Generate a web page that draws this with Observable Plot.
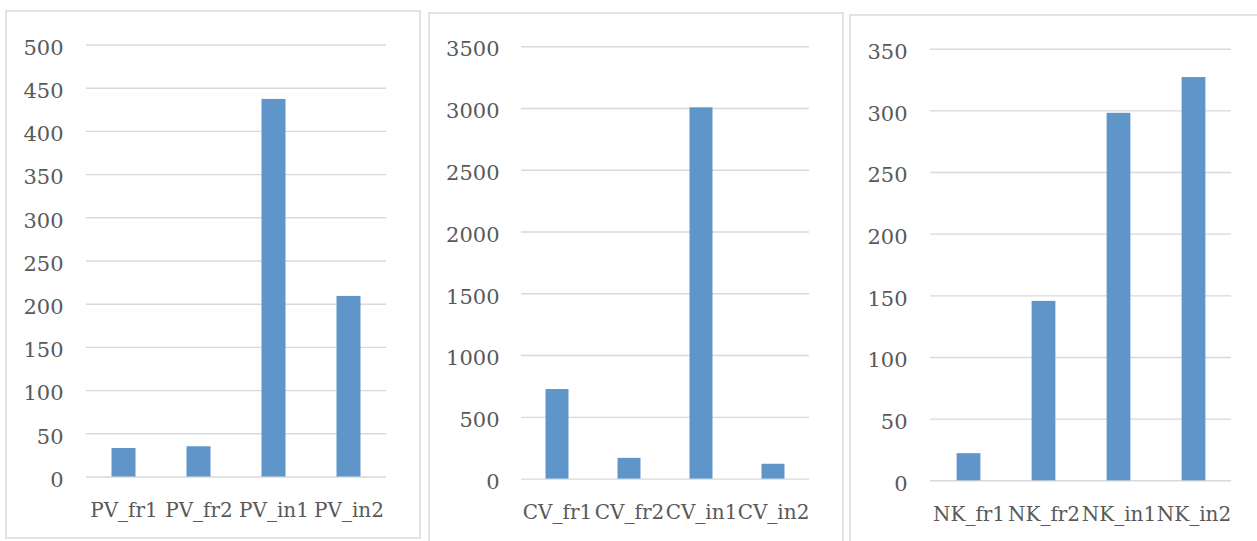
<!DOCTYPE html>
<html>
<head>
<meta charset="utf-8">
<script src="https://cdn.jsdelivr.net/npm/d3@7"></script>
<script src="https://cdn.jsdelivr.net/npm/@observablehq/plot@0.6"></script>
<style>
  html, body { margin: 0; padding: 0; background: #fff; width: 1257px; height: 541px; overflow: hidden; }
  .panel { position: absolute; box-shadow: inset 0 0 0 2px #e3e3e3; background: transparent; }
  .panel svg { position: absolute; left: 0; top: 0; overflow: visible; }
</style>
</head>
<body>
<div id="p1" class="panel" style="left:5px; top:10px; width:416px; height:529px;"></div>
<div id="p2" class="panel" style="left:428px; top:12px; width:416px; height:560px;"></div>
<div id="p3" class="panel" style="left:849px; top:14px; width:420px; height:560px;"></div>
<script>
const pvCategories = ["PV_fr1", "PV_fr2", "PV_in1", "PV_in2"];
const pvValues = [33, 35, 437, 209];
const pvTicks = [0, 50, 100, 150, 200, 250, 300, 350, 400, 450, 500];

const cvCategories = ["CV_fr1", "CV_fr2", "CV_in1", "CV_in2"];
const cvValues = [725, 168, 3005, 120];
const cvTicks = [0, 500, 1000, 1500, 2000, 2500, 3000, 3500];

const nkCategories = ["NK_fr1", "NK_fr2", "NK_in1", "NK_in2"];
const nkValues = [22, 145.5, 298, 327];
const nkTicks = [0, 50, 100, 150, 200, 250, 300, 350];

const FONT = "'DejaVu Serif', serif";
const TEXT = "#595959";
const GRID = "#d9d9d9";
const BAR = "#5f95c9";

function panel(el, cats, vals, ticks, o) {
  const data = cats.map((c, i) => ({cat: c, value: vals[i]}));
  const step = (o.width - o.ml - o.mr) / cats.length;
  const inset = (step - o.bw) / 2;
  const chart = Plot.plot({
    width: o.width,
    height: o.height,
    marginLeft: o.ml,
    marginRight: o.mr,
    marginTop: o.mt,
    marginBottom: o.mb,
    style: {fontFamily: FONT, fontSize: "20px", color: TEXT, background: "transparent"},
    x: {domain: cats, padding: 0, label: null},
    y: {domain: [0, ticks[ticks.length - 1]], label: null},
    marks: [
      Plot.gridY(ticks, {stroke: GRID, strokeOpacity: 1, strokeWidth: 1.4}),
      Plot.barY(data, {x: "cat", y: "value", fill: BAR, insetLeft: inset, insetRight: inset}),
      Plot.axisY(ticks, {tickSize: 0, tickPadding: o.tp, dy: 3, fill: TEXT, fontSize: 21, tickFormat: d => String(d), label: null}),
      Plot.axisX({tickSize: 0, tickPadding: 26, fill: TEXT, fontSize: 20, label: null})
    ]
  });
  document.getElementById(el).appendChild(chart);
}

panel("p1", pvCategories, pvValues, pvTicks, {width: 416, height: 529, ml: 81, mr: 35, mt: 34.5, mb: 62.5, bw: 24, tp: 23});
panel("p2", cvCategories, cvValues, cvTicks, {width: 416, height: 529, ml: 93, mr: 35, mt: 34.2, mb: 62.4, bw: 23, tp: 22});
panel("p3", nkCategories, nkValues, nkTicks, {width: 408, height: 527, ml: 81, mr: 26, mt: 34.7, mb: 60.7, bw: 24, tp: 23});
</script>
</body>
</html>
